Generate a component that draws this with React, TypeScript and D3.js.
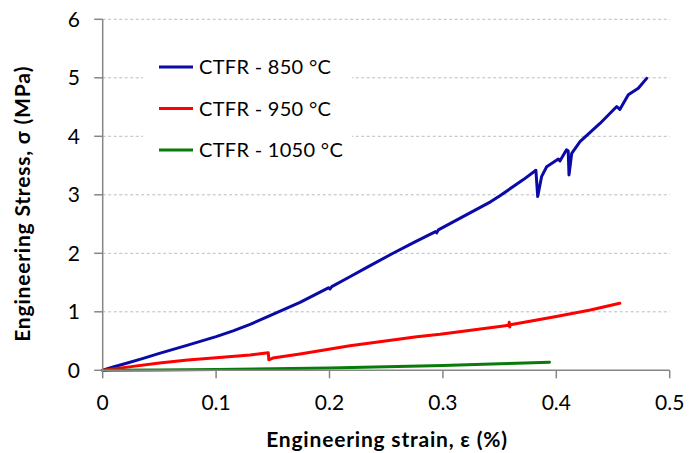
import React from "react";
import * as d3 from "d3";

// Engineering strain (%) and stress (MPa) for each sintering temperature
const strain850 = [0, 0.01, 0.021, 0.035, 0.05, 0.075, 0.1, 0.115, 0.13, 0.1475, 0.174, 0.199, 0.2004, 0.202, 0.218, 0.233, 0.256, 0.275, 0.2935, 0.2945, 0.296, 0.321, 0.342, 0.35, 0.371, 0.382, 0.3836, 0.387, 0.3915, 0.4018, 0.4033, 0.409, 0.4105, 0.4112, 0.4136, 0.4209, 0.4385, 0.4533, 0.456, 0.4635, 0.4723, 0.4797];
const stress850 = [0, 0.06, 0.12, 0.2, 0.29, 0.43, 0.575, 0.675, 0.785, 0.935, 1.16, 1.41, 1.39, 1.43, 1.6, 1.76, 2.0, 2.19, 2.37, 2.35, 2.4, 2.66, 2.88, 2.98, 3.26, 3.42, 2.97, 3.31, 3.48, 3.61, 3.58, 3.77, 3.75, 3.34, 3.71, 3.91, 4.22, 4.51, 4.46, 4.71, 4.82, 4.99];

const strain950 = [0, 0.02, 0.05, 0.075, 0.1, 0.13, 0.146, 0.1465, 0.15, 0.174, 0.218, 0.277, 0.2975, 0.35, 0.358, 0.3585, 0.359, 0.3595, 0.4, 0.43, 0.456];
const stress950 = [0, 0.05, 0.125, 0.175, 0.215, 0.26, 0.3, 0.18, 0.21, 0.28, 0.42, 0.575, 0.615, 0.75, 0.77, 0.82, 0.74, 0.78, 0.92, 1.03, 1.145];

const strain1050 = [0, 0.05, 0.1, 0.15, 0.2, 0.25, 0.3, 0.35, 0.394];
const stress1050 = [0, 0.007, 0.015, 0.025, 0.04, 0.06, 0.083, 0.112, 0.138];

const seriesNames = ["CTFR - 850 °C", "CTFR - 950 °C", "CTFR - 1050 °C"];
const seriesColors = ["#0A0AA6", "#FF0000", "#0A7A0A"];

const xTicks = [0, 0.1, 0.2, 0.3, 0.4, 0.5];
const yTicks = [0, 1, 2, 3, 4, 5, 6];

const W = 697;
const H = 453;
const FONT = "Lato, 'Open Sans', sans-serif";

export default function App() {
  const x = d3.scaleLinear().domain([0, 0.5]).range([102.7, 669.7]);
  const y = d3.scaleLinear().domain([0, 6]).range([370.3, 19.3]);

  const line = d3
    .line<[number, number]>()
    .x((d) => x(d[0]))
    .y((d) => y(d[1]));

  const series = [
    strain850.map((s, i) => [s, stress850[i]] as [number, number]),
    strain950.map((s, i) => [s, stress950[i]] as [number, number]),
    strain1050.map((s, i) => [s, stress1050[i]] as [number, number]),
  ];

  const axisColor = "#868686";
  const [x0, x1] = x.range();
  const [y0, y1] = y.range();

  return (
    <svg
      width={W}
      height={H}
      style={{ position: "absolute", left: 0, top: 0, background: "#fff" }}
      fontFamily={FONT}
    >
      {/* horizontal gridlines */}
      {yTicks
        .filter((t) => t > 0)
        .map((t) => (
          <line
            key={"g" + t}
            x1={x0}
            x2={x1}
            y1={y(t)}
            y2={y(t)}
            stroke="#BDBDBD"
            strokeWidth={1}
            strokeDasharray="3,2.5"
          />
        ))}

      {/* legend backdrop */}
      <rect x={143} y={46} width={209} height={122} fill="#fff" />

      {/* data lines */}
      {series.map((d, i) => (
        <path
          key={"s" + i}
          d={line(d) || ""}
          fill="none"
          stroke={seriesColors[i]}
          strokeWidth={3}
          strokeLinejoin="round"
          strokeLinecap="round"
        />
      ))}

      {/* axes */}
      <line x1={x0} x2={x0} y1={y1} y2={y0} stroke={axisColor} strokeWidth={1.5} />
      <line x1={x0} x2={x1} y1={y0} y2={y0} stroke={axisColor} strokeWidth={1.5} />
      {yTicks.map((t) => (
        <g key={"yt" + t}>
          <line x1={x0 - 8.5} x2={x0} y1={y(t)} y2={y(t)} stroke={axisColor} strokeWidth={1.5} />
          <text x={80} y={y(t)} dy="0.35em" textAnchor="end" fontSize={21} fill="#000">
            {t}
          </text>
        </g>
      ))}
      {xTicks.map((t) => (
        <g key={"xt" + t}>
          <line x1={x(t)} x2={x(t)} y1={y0} y2={y0 + 8} stroke={axisColor} strokeWidth={1.5} />
          <text x={x(t)} y={410} textAnchor="middle" fontSize={21} fill="#000">
            {t}
          </text>
        </g>
      ))}

      {/* axis titles */}
      <text
        x={387}
        y={447}
        textAnchor="middle"
        fontSize={21}
        fontWeight="bold"
        letterSpacing={0.8}
        fill="#000"
      >
        Engineering strain, ε (%)
      </text>
      <text
        transform={`translate(30,${(y0 + y1) / 2 + 9}) rotate(-90)`}
        textAnchor="middle"
        fontSize={21}
        fontWeight="bold"
        letterSpacing={0.8}
        fill="#000"
      >
        Engineering Stress, σ (MPa)
      </text>

      {/* legend */}
      {seriesNames.map((name, i) => {
        const ly = 67 + i * 41.5;
        return (
          <g key={"l" + i}>
            <line x1={159} x2={193} y1={ly} y2={ly} stroke={seriesColors[i]} strokeWidth={3} />
            <text x={199} y={ly} dy="0.35em" fontSize={20} letterSpacing={0.3} fill="#000">
              {name}
            </text>
          </g>
        );
      })}
    </svg>
  );
}
